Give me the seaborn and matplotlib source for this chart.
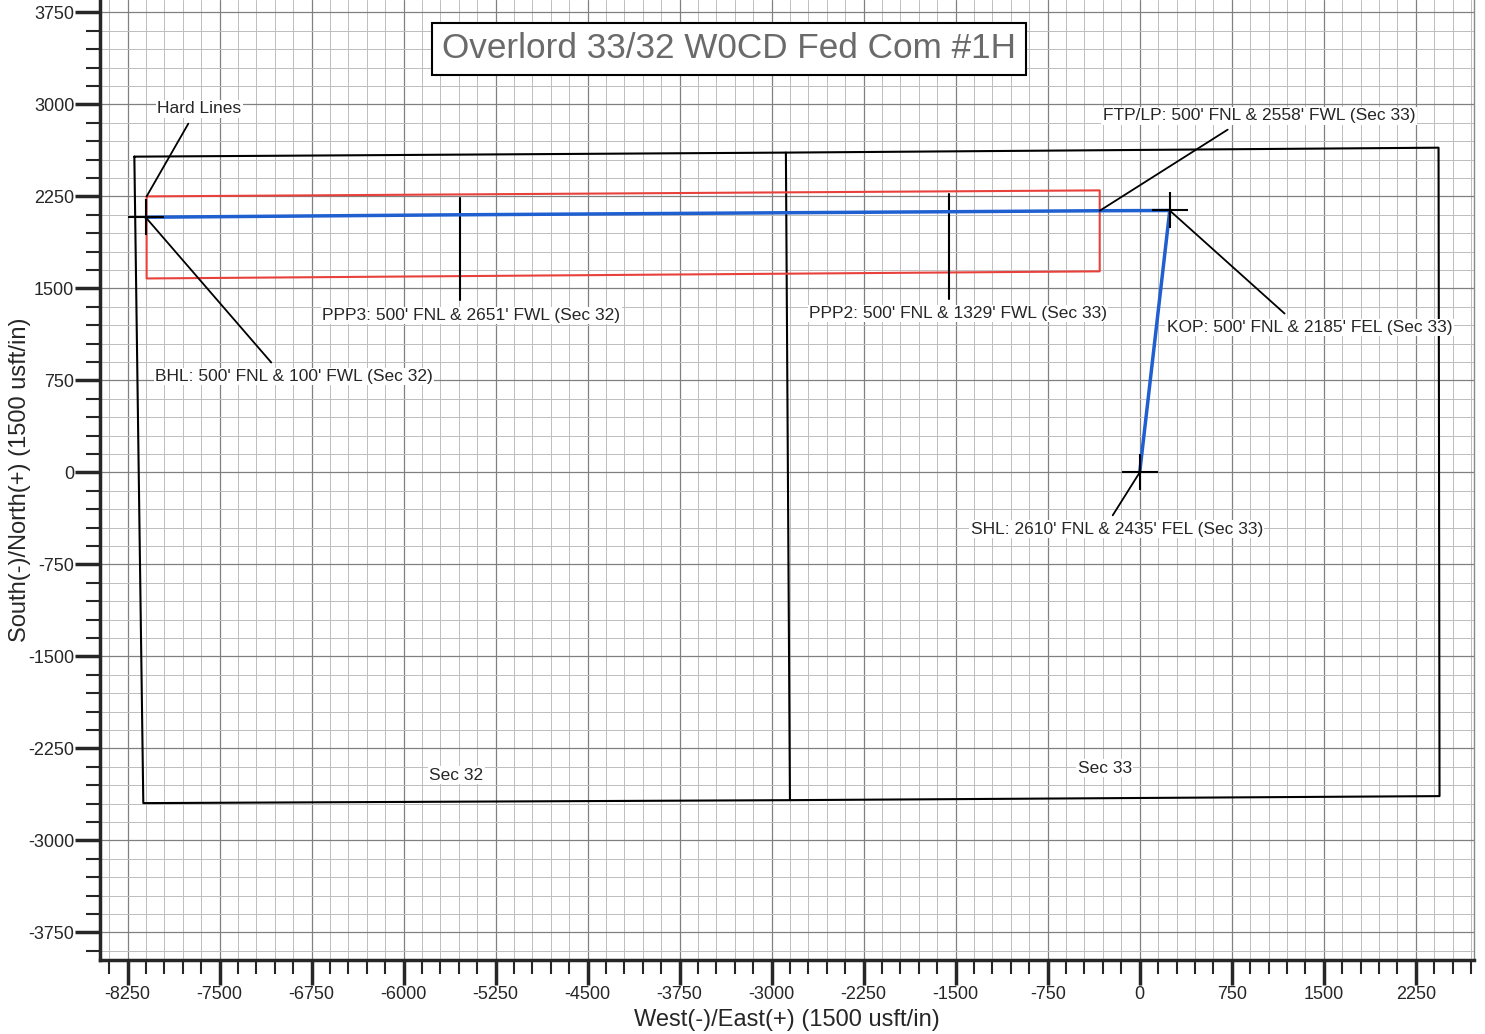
import seaborn as sns
import matplotlib.pyplot as plt
from matplotlib.ticker import MultipleLocator
import pandas as pd

# well path: SHL -> KOP -> FTP -> PPP2 -> PPP3 -> BHL  (East, North in usft)
well_ew = [0, 245, -326, -1557, -5543, -8103]
well_ns = [0, 2135, 2133, 2125, 2100, 2080]

# section lines (Sec 32 / Sec 33)
sec_ew = [-8195, -2884, 2436, 2444, -2851, -8122, -8195]
sec_ns = [2574, 2607, 2647, -2639, -2672, -2696, 2574]
mid_ew = [-2884, -2851]
mid_ns = [2607, -2672]

# hard lines
hard_ew = [-8095, -326, -326, -8095, -8095]
hard_ns = [2250, 2299, 1639, 1581, 2250]

# PPP marks
ppp_ew = [-5543, -1557]
ppp_top = [2234, 2273]
ppp_bot = [1402, 1417]

# crosses at BHL, KOP, SHL
cross_ew = [-8103, 245, 0]
cross_ns = [2080, 2135, 0]

# labels: text, point, leader end, text position
labels = [
    ("Hard Lines", (-8095, 2250), (-7755, 2843), (-7665, 2965), "center"),
    ("BHL: 500' FNL & 100' FWL (Sec 32)", (-8103, 2080), (-7079, 896), (-8024, 782), "left"),
    ("FTP/LP: 500' FNL & 2558' FWL (Sec 33)", (-326, 2133), (717, 2794), (-301, 2908), "left"),
    ("KOP: 500' FNL & 2185' FEL (Sec 33)", (245, 2135), (1181, 1295), (220, 1181), "left"),
    ("SHL: 2610' FNL & 2435' FEL (Sec 33)", (0, 0), (-220, -350), (-1377, -464), "left"),
]
plain_labels = [
    ("PPP3: 500' FNL & 2651' FWL (Sec 32)", -6663, 1279),
    ("PPP2: 500' FNL & 1329' FWL (Sec 33)", -2696, 1295),
    ("Sec 32", -5572, -2468),
    ("Sec 33", -285, -2411),
]

sns.set_style("ticks")
plt.rcParams['font.family'] = ['Liberation Sans', 'DejaVu Sans']
plt.rcParams['axes.unicode_minus'] = False

fig = plt.figure(figsize=(14.85, 10.34), dpi=100)
ax = fig.add_axes([100 / 1485, 74 / 1034, 1374 / 1485, 960 / 1034])

ax.plot(sec_ew, sec_ns, color='black', lw=1.5)
ax.plot(mid_ew, mid_ns, color='black', lw=1.5)
ax.plot(hard_ew, hard_ns, color='#e8413c', lw=1.5)
for x, t, b in zip(ppp_ew, ppp_top, ppp_bot):
    ax.plot([x, x], [t, b], color='black', lw=1.5)

df = pd.DataFrame({'ew': well_ew, 'ns': well_ns})
sns.lineplot(data=df, x='ew', y='ns', sort=False, estimator=None,
             color='#1f5fd0', lw=2.5, ax=ax)
ax.plot(cross_ew, cross_ns, ls='none', marker='+', ms=26, mew=1.5, color='black')

for txt, pt, end, pos, ha in labels:
    ax.annotate('', xy=pt, xytext=end,
                arrowprops=dict(arrowstyle='-', color='black', lw=1.3,
                                shrinkA=0, shrinkB=0))
    ax.text(pos[0], pos[1], txt, ha=ha, va='center', fontsize=12.5,
            bbox=dict(facecolor='white', edgecolor='none', pad=1))
for txt, x, y in plain_labels:
    ha = 'center' if txt.startswith('Sec') else 'left'
    ax.text(x, y, txt, ha=ha, va='center', fontsize=12.5,
            bbox=dict(facecolor='white', edgecolor='none', pad=1))

ax.text(0.458, 0.949, 'Overlord 33/32 W0CD Fed Com #1H', transform=ax.transAxes,
        ha='center', va='center', fontsize=25.3, color='#6a6a6a',
        bbox=dict(facecolor='white', edgecolor='black', lw=1.5, pad=7))

ax.set_xlim(-8475, 2725)
ax.set_ylim(-3975, 3851)
ax.xaxis.set_major_locator(MultipleLocator(750))
ax.xaxis.set_minor_locator(MultipleLocator(150))
ax.yaxis.set_major_locator(MultipleLocator(750))
ax.yaxis.set_minor_locator(MultipleLocator(150))
ax.grid(which='major', color='#808080', lw=0.9)
ax.grid(which='minor', color='#bdbdbd', lw=0.7)
ax.set_axisbelow(True)
ax.tick_params(which='major', length=18, width=2.5, labelsize=13, pad=0.5)
ax.tick_params(which='minor', length=10, width=1.5)

for s in ['left', 'bottom']:
    ax.spines[s].set_linewidth(2.5)
ax.spines['top'].set_visible(False)
ax.spines['right'].set_color('#888888')
ax.spines['right'].set_linewidth(1)

ax.set_xlabel('West(-)/East(+) (1500 usft/in)', fontsize=17)
ax.xaxis.set_label_coords(0.5, -0.051)
ax.set_ylabel('South(-)/North(+) (1500 usft/in)', fontsize=17)
ax.yaxis.set_label_coords(-0.0505, 0.5)

fig.savefig('out.png', dpi=100)
